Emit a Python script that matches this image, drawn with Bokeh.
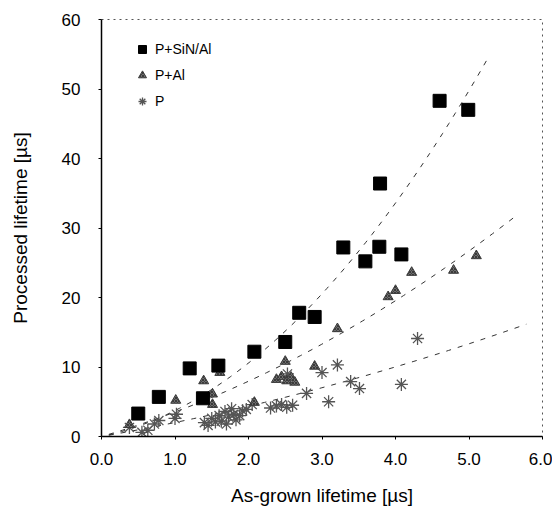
import numpy as np
from bokeh.plotting import figure
from bokeh.models import Range1d, FixedTicker, Legend, LegendItem
from bokeh.embed import file_html
from bokeh.resources import INLINE

# ---------------- data ----------------
sin_x = [0.50, 0.78, 1.20, 1.38, 1.59, 2.08, 2.50, 2.69, 2.90, 3.29, 3.59, 3.78, 3.79, 4.08, 4.60, 4.99]
sin_y = [3.3, 5.7, 9.8, 5.5, 10.2, 12.2, 13.6, 17.8, 17.2, 27.2, 25.2, 27.3, 36.4, 26.2, 48.3, 47.0]

al_x = [0.38, 1.01, 1.39, 1.51, 1.51, 1.61, 2.08, 2.38, 2.45, 2.52, 2.58, 2.63, 2.50, 2.90, 3.21, 3.90, 4.00, 4.22, 4.79, 5.10]
al_y = [1.7, 5.2, 8.0, 6.1, 4.6, 9.2, 4.9, 8.2, 8.6, 8.0, 8.5, 7.8, 10.8, 10.1, 15.5, 20.1, 21.0, 23.6, 23.9, 26.0]

p_x = [0.38, 0.55, 0.63, 0.72, 0.78, 1.00, 1.02, 1.40, 1.45, 1.50, 1.55, 1.60, 1.63, 1.68, 1.70, 1.73,
       1.77, 1.80, 1.83, 1.88, 1.92, 1.97, 2.05, 2.30, 2.38, 2.45, 2.52, 2.60, 2.53, 2.79, 3.00, 3.09,
       3.21, 3.39, 3.51, 4.08, 4.30]
p_y = [1.3, 0.6, 0.9, 1.8, 2.3, 2.6, 3.2, 2.0, 1.6, 2.6, 2.1, 3.0, 2.2, 3.6, 1.8, 2.8,
       4.0, 3.2, 2.4, 3.0, 3.7, 3.9, 4.6, 4.1, 4.4, 4.6, 4.2, 4.5, 9.0, 6.2, 9.2, 5.0,
       10.3, 7.9, 6.9, 7.5, 14.1]

# trendline points (curve fitted through origin)
trend_sin_x = [2.08, 3.00, 4.56, 5.25]
trend_sin_y = [12.2, 20.1, 41.2, 55.1]
trend_al_x = [2.00, 4.00, 5.60]
trend_al_y = [7.9, 19.6, 31.4]
trend_p_x = [2.46, 3.69, 5.78]
trend_p_y = [5.3, 9.3, 16.1]

x_ticks = [0, 1, 2, 3, 4, 5, 6]
x_tick_labels = ["0.0", "1.0", "2.0", "3.0", "4.0", "5.0", "6.0"]
y_ticks = [0, 10, 20, 30, 40, 50, 60]

FONT = "Liberation Sans"


def quad_trend(xs, ys):
    xs = np.asarray(xs, float)
    ys = np.asarray(ys, float)
    A = np.column_stack([xs, xs ** 2])
    coef, *_ = np.linalg.lstsq(A, ys, rcond=None)
    xx = np.linspace(0.1, xs.max(), 60)
    return xx, coef[0] * xx + coef[1] * xx ** 2


p = figure(width=552, height=511, output_backend="svg", toolbar_location=None,
           x_range=Range1d(0, 6), y_range=Range1d(0, 60),
           min_border_left=101, min_border_top=19, min_border_right=10, min_border_bottom=75)

p.xgrid.visible = False
p.ygrid.visible = False
p.outline_line_color = "#555555"
p.outline_line_dash = "dotted"
p.outline_line_width = 1
p.background_fill_color = "white"
p.border_fill_color = "white"

# trendlines
for xs, ys in [(trend_sin_x, trend_sin_y), (trend_al_x, trend_al_y), (trend_p_x, trend_p_y)]:
    tx, ty = quad_trend(xs, ys)
    p.line(tx, ty, line_color="#333333", line_dash="5 7", line_width=1)

r_p = p.scatter(p_x, p_y, marker="asterisk", size=13, line_color="#555555", line_width=1.3)
r_al = p.scatter(al_x, al_y, marker="triangle", size=10, fill_color="#6e6e6e",
                 line_color="#3a3a3a", line_width=1, hatch_pattern="x", hatch_color="#1a1a1a",
                 hatch_scale=3, hatch_weight=0.6)
r_sin = p.scatter(sin_x, sin_y, marker="square", size=13, fill_color="black", line_color="black")

legend = Legend(items=[LegendItem(label="P+SiN/Al", renderers=[r_sin]),
                       LegendItem(label="P+Al", renderers=[r_al]),
                       LegendItem(label="P", renderers=[r_p])],
                location=(31, 325), padding=0, margin=0, spacing=6,
                glyph_width=20, glyph_height=20, label_standoff=3,
                border_line_color=None, background_fill_alpha=0,
                label_text_font=FONT, label_text_font_size="14px", label_text_color="black")
p.add_layout(legend, "center")

# axes
p.xaxis.ticker = FixedTicker(ticks=x_ticks)
p.xaxis.major_label_overrides = {t: l for t, l in zip(x_ticks, x_tick_labels)}
p.yaxis.ticker = FixedTicker(ticks=y_ticks)
for ax in (p.xaxis, p.yaxis):
    ax.axis_line_color = "black"
    ax.axis_line_width = 1.5
    ax.major_tick_line_color = "black"
    ax.major_tick_out = 3
    ax.major_tick_in = 0
    ax.minor_tick_line_color = None
    ax.major_label_text_font = FONT
    ax.major_label_text_font_size = "17px"
    ax.major_label_text_color = "black"
    ax.axis_label_text_font = FONT
    ax.axis_label_text_font_size = "19px"
    ax.axis_label_text_font_style = "normal"
    ax.axis_label_text_color = "black"

p.xaxis.axis_label = "As-grown lifetime [µs]"
p.yaxis.axis_label = "Processed lifetime [µs]"
p.xaxis.major_label_standoff = 13
p.yaxis.major_label_standoff = 18
p.xaxis.axis_label_standoff = 17
p.yaxis.axis_label_standoff = 28

open("out.html", "w").write(file_html(p, INLINE))
